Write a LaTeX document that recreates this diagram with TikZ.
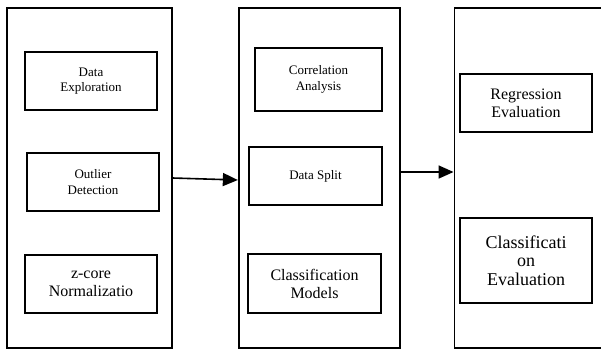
\documentclass[tikz,border=0pt]{standalone}
\usepackage{fontspec}
\setmainfont{Liberation Serif}
\usepackage{tikz}
\usetikzlibrary{positioning, arrows.meta}
\tikzstyle{panel} = [draw, line width=1.7pt, minimum height=340pt, inner sep=0pt]
\tikzstyle{stage} = [draw, line width=1.6pt, align=center, inner sep=0pt, minimum width=132pt, minimum height=58pt]
\tikzstyle{arrow} = [line width=1.6pt,-{Triangle[length=15pt,width=13pt]}]
\newcommand{\fs}[2]{\fontsize{#1}{#2}\selectfont}

\begin{document}
\begin{tikzpicture}[x=1pt, y=-1pt]
  \path[use as bounding box, clip] (0,0) rectangle (601,360);

  % Outer panels
  \node[panel, minimum width=165pt] (p1) at (89.5,178) {};
  \node[panel, minimum width=161pt, right=65pt of p1] (p2) {};
  \node[panel, minimum width=170pt, right=53pt of p2] (p3) {};

  % Panel 1
  \node[stage, font={\fs{13}{15.6pt}}] (explore) at (91,81) {Data\\Exploration};
  \node[stage, font={\fs{13}{15.6pt}}] (outlier) at (93,182) {Outlier\\Detection};
  \node[stage, font={\fs{16}{18pt}}] (zcore) at (91,284) {z-core\\Normalizatio};

  % Panel 2
  \node[stage, minimum width=127pt, minimum height=63pt, font={\fs{13}{15.6pt}}] (corr) at (318.5,79.5) {Correlation\\Analysis};
  \node[stage, minimum width=133pt, font={\fs{13}{15.6pt}}] (split) at (315.5,176) {Data Split};
  \node[stage, minimum width=133pt, minimum height=59pt, font={\fs{16}{18pt}}] (models) at (314.5,283.5) {Classification\\Models};

  % Panel 3
  \node[stage, font={\fs{16}{18pt}}] (regeval) at (526,103) {Regression\\Evaluation};
  \node[stage, minimum height=85pt, font={\fs{18}{18.5pt}}] (clseval) at (526,260.5) {Classificati\\on\\Evaluation};

  % Arrows between panels
  \draw[arrow] (p1.east) -- ([yshift=-2pt]p2.west);
  \draw[arrow] ([yshift=6pt]p2.east) -- ([yshift=6pt]p3.west);
\end{tikzpicture}
\end{document}
